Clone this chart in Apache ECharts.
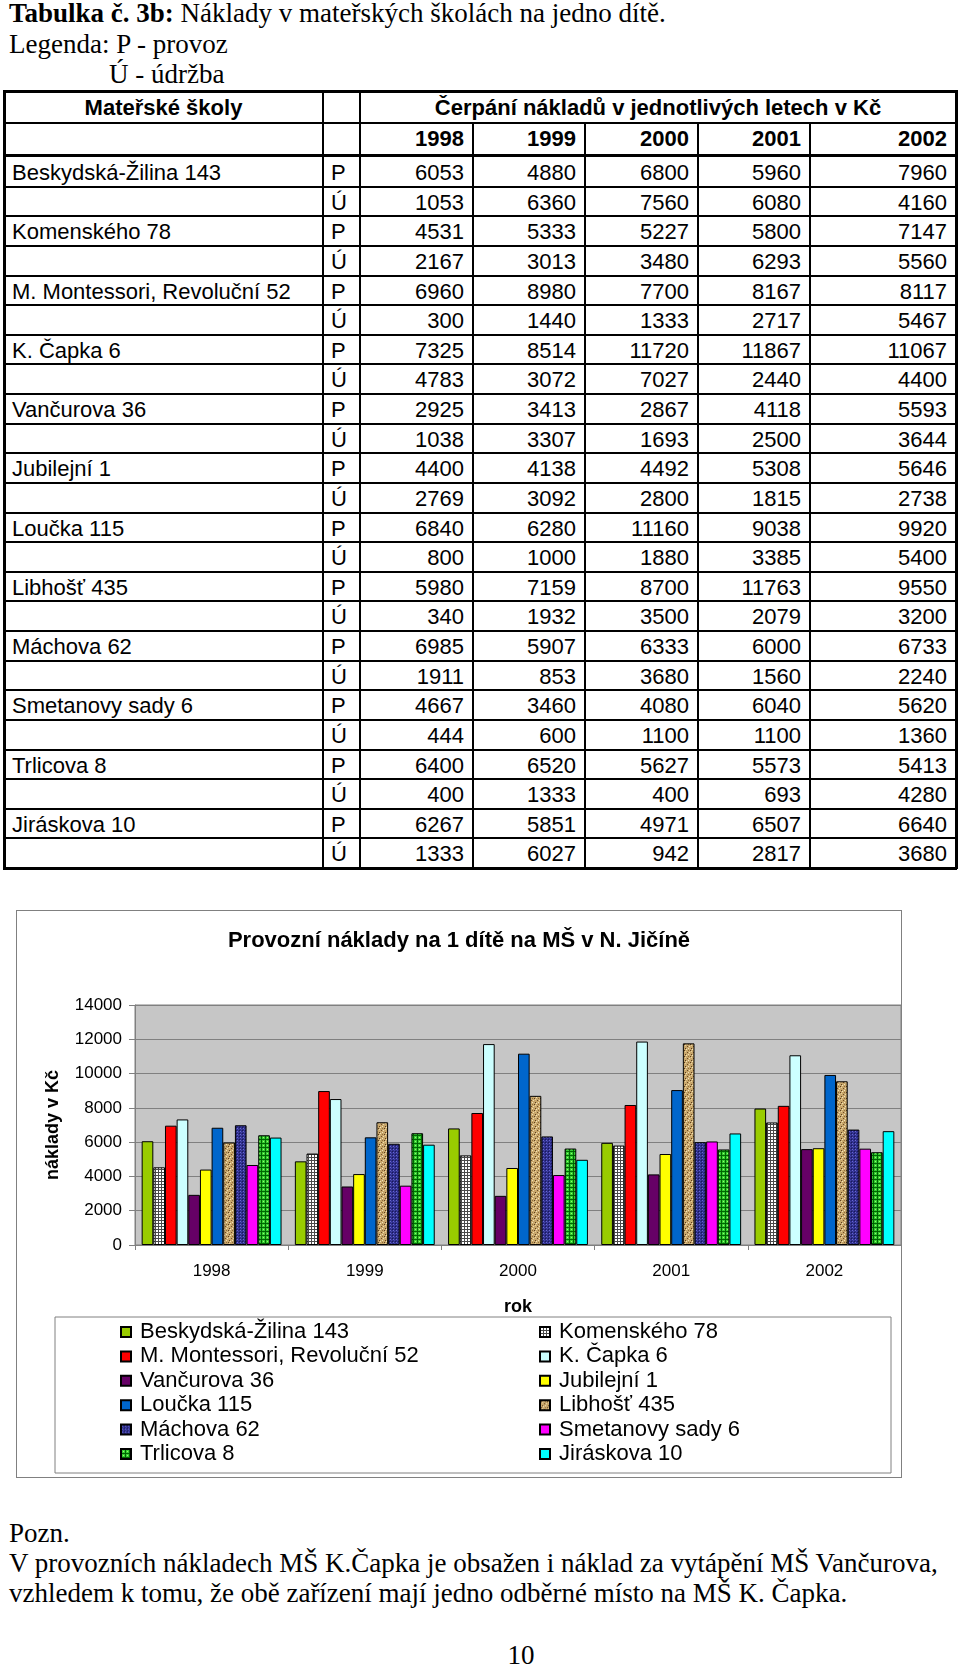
<!DOCTYPE html>
<html><head><meta charset="utf-8">
<script src="https://cdn.jsdelivr.net/npm/echarts@6/dist/echarts.min.js"></script>
<style>
html,body{margin:0;padding:0;background:#fff;}
body{width:960px;height:1667px;position:relative;overflow:hidden;}
.serif{position:absolute;font-family:"Liberation Serif","Times New Roman",serif;font-size:27px;line-height:27px;white-space:nowrap;color:#000;}
.cell{position:absolute;font-family:"Liberation Sans",Arial,sans-serif;font-size:22px;white-space:nowrap;color:#000;}
.ln{position:absolute;background:#000;}
#chartwrap{position:absolute;left:16px;top:910px;width:884px;height:566px;border:1px solid #808080;}
#chart{width:884px;height:566px;}
</style></head>
<body>
<div class="serif" style="left:9px;top:0px;"><b>Tabulka č. 3b:</b> Náklady v mateřských školách na jedno dítě.</div>
<div class="serif" style="left:9px;top:30.5px;">Legenda: P - provoz</div>
<div class="serif" style="left:109px;top:61px;">Ú - údržba</div>
<div id="table"></div>
<div id="chartwrap"><div id="chart"></div></div>
<div class="serif" style="left:9px;top:1519.5px;">Pozn.</div>
<div class="serif" style="left:9px;top:1550px;">V provozních nákladech MŠ K.Čapka je obsažen i náklad za vytápění MŠ Vančurova,</div>
<div class="serif" style="left:9px;top:1580px;">vzhledem k tomu, že obě zařízení mají jedno odběrné místo na MŠ K. Čapka.</div>
<div class="serif" style="left:0;width:1042px;text-align:center;top:1641.5px;">10</div>
<script>
// ---------- DATA ----------
const years = ['1998', '1999', '2000', '2001', '2002'];
const schools = ['Beskydská-Žilina 143', 'Komenského 78', 'M. Montessori, Revoluční 52', 'K. Čapka 6',
  'Vančurova 36', 'Jubilejní 1', 'Loučka 115', 'Libhošť 435', 'Máchova 62', 'Smetanovy sady 6',
  'Trlicova 8', 'Jiráskova 10'];
// provoz (P) per year, in school order
const p1998 = [6053, 4531, 6960, 7325, 2925, 4400, 6840, 5980, 6985, 4667, 6400, 6267];
const p1999 = [4880, 5333, 8980, 8514, 3413, 4138, 6280, 7159, 5907, 3460, 6520, 5851];
const p2000 = [6800, 5227, 7700, 11720, 2867, 4492, 11160, 8700, 6333, 4080, 5627, 4971];
const p2001 = [5960, 5800, 8167, 11867, 4118, 5308, 9038, 11763, 6000, 6040, 5573, 6507];
const p2002 = [7960, 7147, 8117, 11067, 5593, 5646, 9920, 9550, 6733, 5620, 5413, 6640];
// údržba (Ú) per year, in school order
const u1998 = [1053, 2167, 300, 4783, 1038, 2769, 800, 340, 1911, 444, 400, 1333];
const u1999 = [6360, 3013, 1440, 3072, 3307, 3092, 1000, 1932, 853, 600, 1333, 6027];
const u2000 = [7560, 3480, 1333, 7027, 1693, 2800, 1880, 3500, 3680, 1100, 400, 942];
const u2001 = [6080, 6293, 2717, 2440, 2500, 1815, 3385, 2079, 1560, 1100, 693, 2817];
const u2002 = [4160, 5560, 5467, 4400, 3644, 2738, 5400, 3200, 2240, 1360, 4280, 3680];
const yMin = 0, yMax = 14000, yStep = 2000;

const pYears = [p1998, p1999, p2000, p2001, p2002];
const uYears = [u1998, u1999, u2000, u2001, u2002];

// ---------- TABLE ----------
(function () {
  const t = document.getElementById('table');
  const colX = [4, 323, 360, 473, 585, 698, 810, 956];
  const h1 = 123, h2 = 155.5, dataTop = 157, rowH = 29.625, bottom = 868;
  function add(cls, css, text, bold) {
    const d = document.createElement('div');
    d.className = cls;
    d.style.cssText = css;
    if (text !== undefined) d.textContent = text;
    if (bold) d.style.fontWeight = 'bold';
    t.appendChild(d);
  }
  function hline(x1, x2, y, th) { add('ln', `left:${x1}px;top:${y - th / 2}px;width:${x2 - x1}px;height:${th}px;`); }
  function vline(x, y1, y2, th) { add('ln', `left:${x - th / 2}px;top:${y1}px;width:${th}px;height:${y2 - y1}px;`); }
  hline(3, 957, 91, 3); hline(3, 957, bottom, 3);
  vline(4, 90, bottom + 1, 3); vline(956, 90, bottom + 1, 3);
  hline(4, 956, h1, 2);
  hline(4, 956, h2, 3);
  for (let i = 1; i < 24; i++) hline(4, 956, dataTop + i * rowH, 2);
  vline(323, 90, bottom, 2); vline(360, 90, bottom, 2);
  for (let c = 3; c <= 6; c++) vline(colX[c], h1, bottom, 2);
  add('cell', `left:4px;width:319px;text-align:center;top:92px;height:31px;line-height:31px;`, 'Mateřské školy', true);
  add('cell', `left:360px;width:596px;text-align:center;top:92px;height:31px;line-height:31px;`, 'Čerpání nákladů v jednotlivých letech v Kč', true);
  years.forEach((y, j) => {
    add('cell', `left:${colX[j + 2]}px;width:${colX[j + 3] - colX[j + 2] - 9}px;text-align:right;top:123px;height:32px;line-height:32px;`, y, true);
  });
  schools.forEach((name, i) => {
    [['P', pYears], ['Ú', uYears]].forEach(([lab, arrs], k) => {
      const r = i * 2 + k;
      const y = dataTop + r * rowH + 1;
      const base = `top:${y}px;height:${rowH}px;line-height:${rowH}px;`;
      if (k === 0) add('cell', `left:12px;` + base, name);
      add('cell', `left:331px;` + base, lab);
      arrs.forEach((arr, j) => {
        add('cell', `left:${colX[j + 2]}px;width:${colX[j + 3] - colX[j + 2] - 9}px;text-align:right;` + base, String(arr[i]));
      });
    });
  });
})();

// ---------- PATTERNS ----------
function tile(w, h, bg, pts) {
  const c = document.createElement('canvas');
  c.width = w; c.height = h;
  const g = c.getContext('2d');
  g.fillStyle = bg; g.fillRect(0, 0, w, h);
  pts.forEach(([x, y, col]) => { g.fillStyle = col; g.fillRect(x, y, 1, 1); });
  return { image: c, repeat: 'repeat' };
}
const gridPts = [[0, 0, '#4a4a4a'], [1, 0, '#4a4a4a'], [2, 0, '#4a4a4a'], [0, 1, '#4a4a4a'], [0, 2, '#4a4a4a']];
const patKomen = tile(3, 3, '#ffffff', gridPts);
const patLib = tile(6, 6, '#C8A66A', [[1, 1, '#5a3d1e'], [4, 3, '#6b4a26'], [2, 5, '#5a3d1e'], [3, 0, '#F2E4BC'], [0, 3, '#EFDDB0'], [5, 5, '#F2E4BC'], [2, 2, '#E8D3A0'], [5, 1, '#8a6a3a']]);
const patMach = tile(3, 3, '#2E2E8C', [[1, 1, '#6A6AD0'], [0, 0, '#1A1A55'], [2, 2, '#4646A8']]);
const patTrl = tile(4, 4, '#33CC33', [[0, 0, '#006600'], [1, 0, '#006600'], [2, 0, '#006600'], [3, 0, '#006600'], [0, 1, '#006600'], [0, 2, '#006600'], [0, 3, '#006600'], [2, 2, '#99FF66']]);
const fills = ['#99CC00', patKomen, '#FF0000', '#CCFFFF', '#660066', '#FFFF00', '#0066CC', patLib, patMach, '#FF00FF', patTrl, '#00FFFF'];

// ---------- CHART ----------
const FF = '"Liberation Sans", Arial, sans-serif';
const chart = echarts.init(document.getElementById('chart'), null, { renderer: 'canvas' });
const legendBase = {
  orient: 'vertical', top: 405, height: 200, itemWidth: 10, itemHeight: 10, itemGap: 2.4, icon: 'rect', selectedMode: false,
  textStyle: { fontSize: 22, lineHeight: 20, fontFamily: FF, color: '#000', padding: [0, 0, 0, 4] }
};
chart.setOption({
  animation: false,
  backgroundColor: '#fff',
  title: {
    text: 'Provozní náklady na 1 dítě na MŠ v N. Jičíně', left: 'center', top: 14,
    textStyle: { fontSize: 22, fontWeight: 'bold', fontFamily: FF, color: '#000' }
  },
  grid: { left: 118, right: 0, top: 94, height: 240, show: true, backgroundColor: '#C6C6C6', borderColor: '#808080', borderWidth: 1 },
  legend: [
    Object.assign({}, legendBase, { left: 98, data: schools.filter((_, i) => i % 2 === 0) }),
    Object.assign({}, legendBase, { left: 517, data: schools.filter((_, i) => i % 2 === 1) })
  ],
  graphic: [{ type: 'rect', shape: { x: 38, y: 406, width: 836, height: 156 }, style: { fill: 'none', stroke: '#808080', lineWidth: 1 }, silent: true }],
  xAxis: {
    type: 'category', data: years,
    axisLine: { lineStyle: { color: '#808080' } },
    axisTick: { show: true, length: 5, lineStyle: { color: '#808080' } },
    axisLabel: { fontSize: 17, margin: 18, color: '#000', fontFamily: FF },
    name: 'rok', nameLocation: 'middle', nameGap: 53,
    nameTextStyle: { fontSize: 18, fontWeight: 'bold', color: '#000', fontFamily: FF }
  },
  yAxis: {
    type: 'value', min: yMin, max: yMax, interval: yStep,
    axisLine: { show: true, lineStyle: { color: '#808080' } },
    axisTick: { show: true, length: 6, lineStyle: { color: '#808080' } },
    axisLabel: { fontSize: 17, margin: 13, color: '#000', fontFamily: FF, formatter: v => String(v) },
    splitLine: { lineStyle: { color: '#808080', width: 1 } },
    name: 'náklady v Kč', nameLocation: 'middle', nameGap: 73,
    nameTextStyle: { fontSize: 18, fontWeight: 'bold', color: '#000', fontFamily: FF }
  },
  series: schools.map((name, i) => ({
    name, type: 'bar',
    data: pYears.map(arr => arr[i]),
    barGap: '0%', barCategoryGap: '8.7%',
    itemStyle: { color: fills[i], borderColor: '#000', borderWidth: 1 }
  }))
});
</script>
</body></html>
